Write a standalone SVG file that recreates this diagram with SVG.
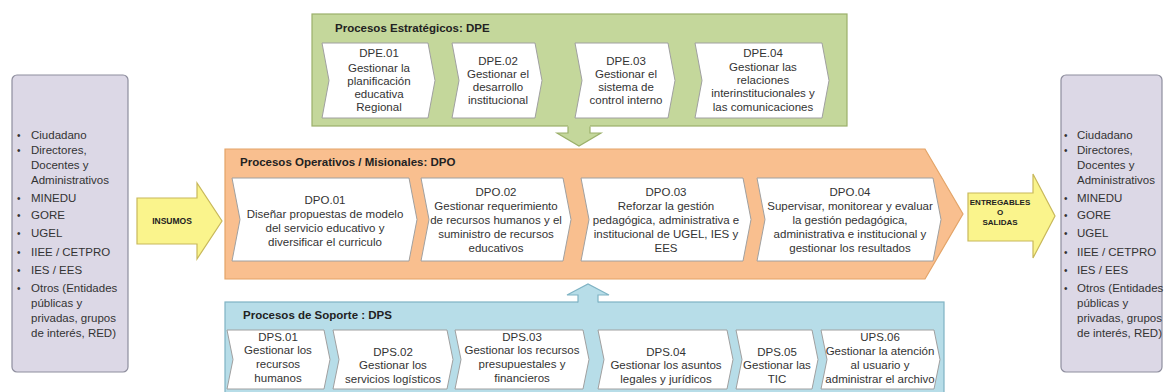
<svg xmlns="http://www.w3.org/2000/svg" width="1165" height="392" viewBox="0 0 1165 392">
<style>
  text { font-family: "Liberation Sans", Arial, sans-serif; fill: #333; }
  .t { font-size: 11.5px; text-anchor: middle; }
  .li { font-size: 11.5px; }
  .bu { font-size: 10px; }
  .ttl { font-size: 11.5px; font-weight: bold; fill: #222; }
  .arr { font-size: 8.5px; font-weight: bold; fill: #222; text-anchor: middle; }
  .chev { fill: #ffffff; stroke: #a0a0a0; stroke-width: 1; }
  .side { fill: #dcd8e6; stroke: #8e8e9e; stroke-width: 1.2; }
  .yel { fill: #faf48c; stroke: #c8b85a; stroke-width: 1.2; }
  .grn { fill: #c4d79b; stroke: #9bb06a; stroke-width: 1.2; }
  .org { fill: #f9bf8f; stroke: #e3a468; stroke-width: 1.2; }
  .blu { fill: #b7dde8; stroke: #7fb3c4; stroke-width: 1.2; }
</style>

<!-- Entradas -->
<g id="entradas">
  <rect class="side" x="12" y="75" width="116" height="297" rx="5"/>
  <g class="bu"><text x="17" y="139">•</text><text x="17" y="154">•</text><text x="17" y="202">•</text><text x="17" y="219">•</text><text x="17" y="237">•</text><text x="17" y="256">•</text><text x="17" y="274">•</text><text x="17" y="292">•</text></g>
  <g class="li">
    <text x="31" y="139">Ciudadano</text>
    <text x="31" y="154">Directores,</text>
    <text x="31" y="169">Docentes y</text>
    <text x="31" y="184">Administrativos</text>
    <text x="31" y="202">MINEDU</text>
    <text x="31" y="219">GORE</text>
    <text x="31" y="237">UGEL</text>
    <text x="31" y="256">IIEE / CETPRO</text>
    <text x="31" y="274">IES / EES</text>
    <text x="31" y="292">Otros (Entidades</text>
    <text x="31" y="307">públicas y</text>
    <text x="31" y="322">privadas, grupos</text>
    <text x="31" y="337">de interés, RED)</text>
  </g>
</g>

<!-- Salidas -->
<g id="salidas">
  <rect class="side" x="1061" y="75" width="101" height="297" rx="5"/>
  <g class="bu"><text x="1064" y="139">•</text><text x="1064" y="154">•</text><text x="1064" y="202">•</text><text x="1064" y="219">•</text><text x="1064" y="237">•</text><text x="1064" y="256">•</text><text x="1064" y="274">•</text><text x="1064" y="292">•</text></g>
  <g class="li">
    <text x="1077" y="139">Ciudadano</text>
    <text x="1077" y="154">Directores,</text>
    <text x="1077" y="169">Docentes y</text>
    <text x="1077" y="184">Administrativos</text>
    <text x="1077" y="202">MINEDU</text>
    <text x="1077" y="219">GORE</text>
    <text x="1077" y="237">UGEL</text>
    <text x="1077" y="256">IIEE / CETPRO</text>
    <text x="1077" y="274">IES / EES</text>
    <text x="1077" y="292">Otros (Entidades</text>
    <text x="1077" y="307">públicas y</text>
    <text x="1077" y="322">privadas, grupos</text>
    <text x="1077" y="337">de interés, RED)</text>
  </g>
</g>

<!-- Procesos Estrategicos -->
<g id="dpe">
  <rect class="grn" x="312" y="14" width="535" height="112"/>
  <text class="ttl" x="335" y="32">Procesos Estratégicos: DPE</text>
  <g id="dpe01">
    <path class="chev" d="M322,43 L428,43 L435,80.5 L428,118 L322,118 L329,80.5 Z"/>
    <text class="t" x="379" y="57">DPE.01</text>
    <text class="t" x="379" y="72">Gestionar la</text>
    <text class="t" x="379" y="85">planificación</text>
    <text class="t" x="379" y="98">educativa</text>
    <text class="t" x="379" y="111">Regional</text>
  </g>
  <g id="dpe02">
    <path class="chev" d="M452,43 L535,43 L542,80.5 L535,118 L452,118 L459,80.5 Z"/>
    <text class="t" x="498" y="65">DPE.02</text>
    <text class="t" x="498" y="78">Gestionar el</text>
    <text class="t" x="498" y="91">desarrollo</text>
    <text class="t" x="498" y="104">institucional</text>
  </g>
  <g id="dpe03">
    <path class="chev" d="M575,43 L668,43 L675,80.5 L668,118 L575,118 L582,80.5 Z"/>
    <text class="t" x="626" y="65">DPE.03</text>
    <text class="t" x="626" y="78">Gestionar el</text>
    <text class="t" x="626" y="91">sistema de</text>
    <text class="t" x="626" y="104">control interno</text>
  </g>
  <g id="dpe04">
    <path class="chev" d="M695,43 L822,43 L829,80.5 L822,118 L695,118 L702,80.5 Z"/>
    <text class="t" x="763" y="57">DPE.04</text>
    <text class="t" x="763" y="71">Gestionar las</text>
    <text class="t" x="763" y="84">relaciones</text>
    <text class="t" x="763" y="97">interinstitucionales y</text>
    <text class="t" x="763" y="111">las comunicaciones</text>
  </g>
</g>

<!-- Procesos Operativos -->
<g id="dpo">
  <path class="org" d="M225,149 L925,149 L963,214 L925,279 L225,279 Z"/>
  <text class="ttl" x="240" y="166">Procesos Operativos / Misionales: DPO</text>
  <g id="dpo01">
    <path class="chev" d="M232,178 L409,178 L417,219.5 L409,261 L232,261 L240,219.5 Z"/>
    <text class="t" x="325" y="204">DPO.01</text>
    <text class="t" x="325" y="218">Diseñar propuestas de modelo</text>
    <text class="t" x="325" y="232">del servicio educativo y</text>
    <text class="t" x="325" y="246">diversificar el curriculo</text>
  </g>
  <g id="dpo02">
    <path class="chev" d="M421,178 L563,178 L571,219.5 L563,261 L421,261 L429,219.5 Z"/>
    <text class="t" x="496" y="196">DPO.02</text>
    <text class="t" x="496" y="210">Gestionar requerimiento</text>
    <text class="t" x="496" y="224">de recursos humanos y el</text>
    <text class="t" x="496" y="238">suministro de recursos</text>
    <text class="t" x="496" y="252">educativos</text>
  </g>
  <g id="dpo03">
    <path class="chev" d="M581,178 L743,178 L751,219.5 L743,261 L581,261 L589,219.5 Z"/>
    <text class="t" x="666" y="196">DPO.03</text>
    <text class="t" x="666" y="210">Reforzar la gestión</text>
    <text class="t" x="666" y="224">pedagógica, administrativa e</text>
    <text class="t" x="666" y="238">institucional de UGEL, IES y</text>
    <text class="t" x="666" y="252">EES</text>
  </g>
  <g id="dpo04">
    <path class="chev" d="M757,178 L933,178 L941,219.5 L933,261 L757,261 L765,219.5 Z"/>
    <text class="t" x="850" y="196">DPO.04</text>
    <text class="t" x="850" y="210">Supervisar, monitorear y evaluar</text>
    <text class="t" x="850" y="224">la gestión pedagógica,</text>
    <text class="t" x="850" y="238">administrativa e institucional y</text>
    <text class="t" x="850" y="252">gestionar los resultados</text>
  </g>
</g>

<!-- Procesos de Soporte -->
<g id="dps">
  <rect class="blu" x="225" y="302" width="719" height="100"/>
  <text class="ttl" x="243" y="319">Procesos de Soporte : DPS</text>
  <g id="dps01">
    <path class="chev" d="M227,330 L324,330 L330,359.5 L324,389 L227,389 L233,359.5 Z"/>
    <text class="t" x="278" y="341">DPS.01</text>
    <text class="t" x="278" y="354">Gestionar los</text>
    <text class="t" x="278" y="368">recursos</text>
    <text class="t" x="278" y="382">humanos</text>
  </g>
  <g id="dps02">
    <path class="chev" d="M333,330 L447,330 L453,359.5 L447,389 L333,389 L339,359.5 Z"/>
    <text class="t" x="393" y="356">DPS.02</text>
    <text class="t" x="393" y="369">Gestionar los</text>
    <text class="t" x="393" y="383">servicios logísticos</text>
  </g>
  <g id="dps03">
    <path class="chev" d="M455,330 L583,330 L589,359.5 L583,389 L455,389 L461,359.5 Z"/>
    <text class="t" x="522" y="341">DPS.03</text>
    <text class="t" x="522" y="354">Gestionar los recursos</text>
    <text class="t" x="522" y="368">presupuestales y</text>
    <text class="t" x="522" y="382">financieros</text>
  </g>
  <g id="dps04">
    <path class="chev" d="M598,330 L727,330 L733,359.5 L727,389 L598,389 L604,359.5 Z"/>
    <text class="t" x="666" y="356">DPS.04</text>
    <text class="t" x="666" y="369">Gestionar los asuntos</text>
    <text class="t" x="666" y="383">legales y jurídicos</text>
  </g>
  <g id="dps05">
    <path class="chev" d="M736,330 L812,330 L818,359.5 L812,389 L736,389 L742,359.5 Z"/>
    <text class="t" x="777" y="356">DPS.05</text>
    <text class="t" x="777" y="369">Gestionar las</text>
    <text class="t" x="777" y="383">TIC</text>
  </g>
  <g id="ups06">
    <path class="chev" d="M821,330 L934,330 L940,359.5 L934,389 L821,389 L827,359.5 Z"/>
    <text class="t" x="880" y="341">UPS.06</text>
    <text class="t" x="880" y="355">Gestionar la atención</text>
    <text class="t" x="880" y="369">al usuario y</text>
    <text class="t" x="880" y="383">administrar el archivo</text>
  </g>
</g>

<!-- Connectors -->
<g id="connectors">
  <g id="insumos">
    <path class="yel" d="M137,198 L197,198 L197,183 L222,221 L197,259 L197,244 L137,244 Z"/>
    <text class="arr" x="172" y="224">INSUMOS</text>
  </g>
  <g id="entregables">
    <path class="yel" d="M968,193 L1033,193 L1033,174 L1055,216 L1033,258 L1033,241 L968,241 Z"/>
    <text class="arr" x="1000" y="205" style="font-size:8px">ENTREGABLES</text>
    <text class="arr" x="1000" y="215" style="font-size:8px">O</text>
    <text class="arr" x="1000" y="225" style="font-size:8px">SALIDAS</text>
  </g>
  <g id="dpe-to-dpo">
    <path d="M568,125 L568,133 L557,133 L579,146 L601,133 L590,133 L590,125 Z" fill="#c4d79b" stroke="none"/>
    <path d="M568,126.6 L568,133 L557,133 L579,146 L601,133 L590,133 L590,126.6" fill="none" stroke="#9bb06a" stroke-width="1.2"/>
  </g>
  <g id="dps-to-dpo">
    <path d="M578,303.5 L578,295 L567,295 L588,284 L609,295 L598,295 L598,303.5 Z" fill="#b7dde8" stroke="none"/>
    <path d="M578,302.6 L578,295 L567,295 L588,284 L609,295 L598,295 L598,302.6" fill="none" stroke="#7fb3c4" stroke-width="1.2"/>
  </g>
</g>
</svg>
